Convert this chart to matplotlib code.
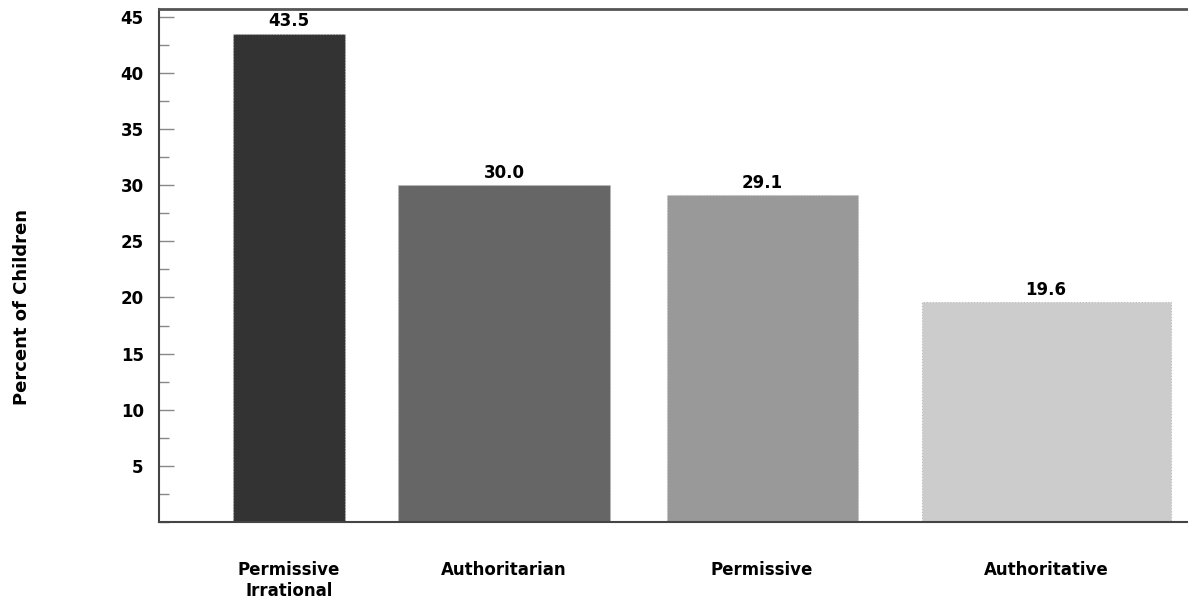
import matplotlib.pyplot as plt
from matplotlib.ticker import MultipleLocator

# Data
styles = ['Permissive\nIrrational', 'Authoritarian', 'Permissive', 'Authoritative']
percent = [43.5, 30.0, 29.1, 19.6]
bar_colors = ['#333333', '#666666', '#999999', '#cccccc']

# bar layout (x in pixels-ish units along axis)
x_pos = [289, 504, 762, 1046]
widths = [112, 212, 191, 249]

plt.rcParams['font.family'] = ['DejaVu Sans']
plt.rcParams['font.weight'] = 'bold'

fig = plt.figure(figsize=(11.88, 6.04), dpi=100)
ax = fig.add_axes([159 / 1188, 1 - 522 / 604, 1 - 159 / 1188, 513 / 604])

ax.bar(x_pos, percent, width=widths, color=bar_colors,
       edgecolor='#bbbbbb', linewidth=0.8, linestyle=':')

for x, v in zip(x_pos, percent):
    ax.text(x, v + 0.3, f'{v:.1f}', ha='center', va='bottom', fontsize=12, fontweight='bold')

ax.set_xlim(159, 1188)
ax.set_ylim(0, 45.7)

ax.yaxis.set_minor_locator(MultipleLocator(2.5))
ax.set_yticks([5, 10, 15, 20, 25, 30, 35, 40, 45])
ax.tick_params(axis='y', which='major', direction='in', length=11, width=1, color='#888888',
               labelsize=12, pad=11)
ax.tick_params(axis='y', which='minor', direction='in', length=7, width=1, color='#888888')
ax.tick_params(axis='x', length=0, pad=28, labelsize=12)
ax.set_xticks(x_pos)
ax.set_xticklabels(styles, va='top', linespacing=1.2)
for lbl in ax.get_xticklabels() + ax.get_yticklabels():
    lbl.set_fontweight('bold')

ax.spines['right'].set_visible(False)
ax.spines['top'].set_color('#555555')
ax.spines['top'].set_linewidth(2)
for s in ['left', 'bottom']:
    ax.spines[s].set_color('#444444')
    ax.spines[s].set_linewidth(1.5)
    ax.spines[s].set_linestyle((0, (2, 1)))

fig.text(22 / 1188, 1 - 307 / 604, 'Percent of Children', rotation=90, ha='center', va='center',
         fontsize=13, fontweight='bold')

fig.savefig('out.png', dpi=100)
